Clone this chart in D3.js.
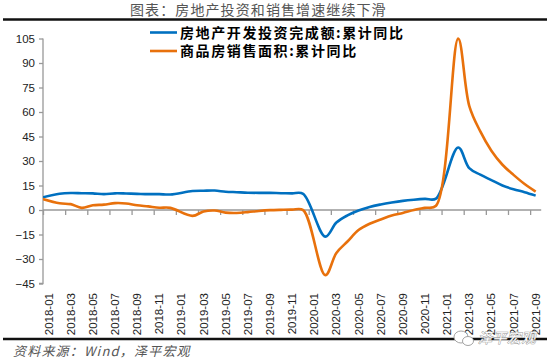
<!DOCTYPE html>
<html><head><meta charset="utf-8">
<script src="https://cdn.jsdelivr.net/npm/d3@7/dist/d3.min.js"></script>
<style>body{margin:0;background:#fff}svg{display:block}</style>
</head><body>
<svg id="c" width="550" height="363"></svg>
<script>
// Months (2017-12 lead-in point, then 2018-01 .. 2021-09); January values are not published (null)
const months = ["2017-12",
 "2018-01","2018-02","2018-03","2018-04","2018-05","2018-06","2018-07","2018-08","2018-09","2018-10","2018-11","2018-12",
 "2019-01","2019-02","2019-03","2019-04","2019-05","2019-06","2019-07","2019-08","2019-09","2019-10","2019-11","2019-12",
 "2020-01","2020-02","2020-03","2020-04","2020-05","2020-06","2020-07","2020-08","2020-09","2020-10","2020-11","2020-12",
 "2021-01","2021-02","2021-03","2021-04","2021-05","2021-06","2021-07","2021-08","2021-09"];
const investment = [7.0,
 null,9.9,10.4,10.3,10.2,9.7,10.2,10.1,9.9,9.7,9.7,9.5,
 null,11.6,11.8,11.9,11.2,10.9,10.6,10.5,10.5,10.3,10.2,9.9,
 null,-16.3,-7.7,-3.3,-0.3,1.9,3.4,4.6,5.6,6.3,6.8,7.0,
 null,38.3,25.6,21.6,18.3,15.0,12.7,10.9,8.8];
const salesArea = [7.7,
 null,4.1,3.6,1.3,2.9,3.3,4.2,4.0,2.9,2.2,1.4,1.3,
 null,-3.6,-0.9,-0.3,-1.6,-1.8,-1.3,-0.6,-0.1,0.1,0.2,-0.1,
 null,-39.9,-26.3,-19.3,-12.3,-8.4,-5.8,-3.3,-1.8,0.0,1.3,2.6,
 null,104.9,63.8,48.1,36.3,27.7,21.5,15.9,11.3];
const yTicks = [-45,-30,-15,0,15,30,45,60,75,90,105];
const seriesNames = ["房地产开发投资完成额:累计同比","商品房销售面积:累计同比"];
const colors = ["#0070C0","#E8710C"];
const titleText = "图表：房地产投资和销售增速继续下滑";
const sourceText = "资料来源：Wind，泽平宏观";

const svg = d3.select("#c");
const cjk = "'Noto Sans CJK SC','Noto Sans',sans-serif";
const axisFont = "'Liberation Sans',Arial,sans-serif";

// title + rules
svg.append("text").attr("x",130).attr("y",14.5).attr("font-family",cjk)
  .attr("font-size",14).attr("letter-spacing",1.1).attr("fill","#555").text(titleText);
svg.append("line").attr("x1",3).attr("x2",547).attr("y1",19.5).attr("y2",19.5).attr("stroke","#111").attr("stroke-width",2.5);
svg.append("line").attr("x1",3).attr("x2",547).attr("y1",339).attr("y2",339).attr("stroke","#111").attr("stroke-width",2.5);
svg.append("text").attr("x",13).attr("y",356).attr("font-family",cjk).attr("font-style","italic")
  .attr("font-size",13).attr("letter-spacing",1.2).attr("fill","#555").text(sourceText);

// scales
const firstIdx = 1; // index of 2018-01
const nCats = months.length - firstIdx; // 45
const x = d3.scaleLinear().domain([0, nCats]).range([43, 541.2]);
const y = d3.scaleLinear().domain([-45,105]).range([283.5,38.5]);
const px = i => x(i - firstIdx + 0.5);

// y axis
const yAxis = svg.append("g").attr("transform","translate(43,0)")
  .call(d3.axisLeft(y).tickValues(yTicks).tickSize(4).tickPadding(4));
yAxis.select(".domain").attr("stroke","#999").attr("stroke-width",1.3).attr("d","M0,"+y(105)+"V"+y(-45)+"H-4");
yAxis.selectAll(".tick line").attr("stroke","#999").attr("stroke-width",1.3);
yAxis.selectAll(".tick text").attr("font-family",axisFont).attr("font-size",11.5).attr("fill","#222");

// x axis at zero
const tickIdx = d3.range(0, nCats, 2);
const xAxis = svg.append("g").attr("transform","translate(0,"+y(0)+")")
  .call(d3.axisBottom(x).tickValues(tickIdx).tickSize(5).tickFormat(""));
xAxis.select(".domain").attr("stroke","#999").attr("stroke-width",1.3).attr("d","M43,0H541.2");
xAxis.selectAll(".tick line").attr("stroke","#999").attr("stroke-width",1.3);
svg.append("g").selectAll("text").data(tickIdx).join("text")
  .attr("font-family",axisFont).attr("font-size",11.5).attr("fill","#222")
  .attr("text-anchor","end")
  .attr("transform",d=>"translate("+(x(d+0.5)+4)+",293) rotate(-90)")
  .text(d=>months[d+firstIdx]);

// lines
svg.append("clipPath").attr("id","clip").append("rect").attr("x",43).attr("y",20).attr("width",505).attr("height",300);
const line = d3.line().defined(d=>d.v!==null).x(d=>px(d.i)).y(d=>y(d.v)).curve(d3.curveCatmullRom.alpha(0.5));
[investment, salesArea].forEach((arr,k)=>{
  const pts = arr.map((v,i)=>({i,v})).filter(d=>d.v!==null);
  svg.append("path").attr("clip-path","url(#clip)").attr("d",line(pts))
    .attr("fill","none").attr("stroke",colors[k]).attr("stroke-width",2.6).attr("stroke-linejoin","round");
});

// legend
seriesNames.forEach((name,k)=>{
  const ly = 32.5 + k*18.5;
  svg.append("line").attr("x1",150).attr("x2",177).attr("y1",ly).attr("y2",ly).attr("stroke",colors[k]).attr("stroke-width",2.6);
  svg.append("text").attr("x",180).attr("y",ly+5).attr("font-family",cjk).attr("font-weight","bold")
    .attr("font-size",14).attr("letter-spacing",1.6).attr("fill","#000").text(name);
});

// watermark
const wm = svg.append("g").attr("fill","#fff").attr("stroke","#999").attr("stroke-width",0.9);
wm.append("ellipse").attr("cx",461).attr("cy",337).attr("rx",7).attr("ry",6);
wm.append("ellipse").attr("cx",468).attr("cy",341).attr("rx",5.5).attr("ry",4.5);
wm.append("text").attr("x",478).attr("y",343).attr("font-family",cjk).attr("font-style","italic")
  .attr("font-size",14).attr("paint-order","stroke").attr("letter-spacing",0.5).text("泽平宏观");
</script>
</body></html>
